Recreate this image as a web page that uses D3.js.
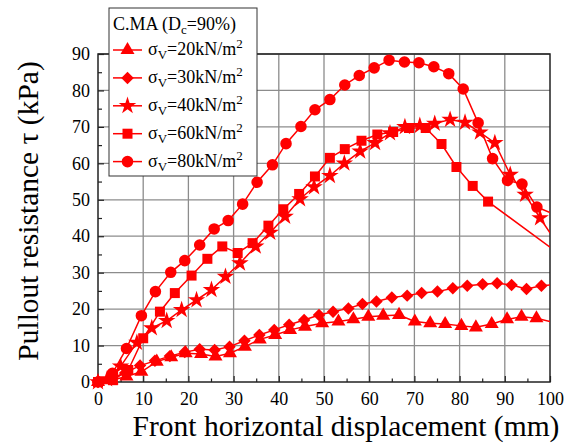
<!DOCTYPE html>
<html><head><meta charset="utf-8">
<script src="https://cdn.jsdelivr.net/npm/d3@7/dist/d3.min.js"></script>
<style>body{margin:0;background:#fff}svg{display:block}</style>
</head><body>
<svg id="c" width="572" height="445"></svg>
<script>
// ---- data ----
const xTicks = [0,10,20,30,40,50,60,70,80,90,100];
const yTicks = [0,10,20,30,40,50,60,70,80,90];
const legendTitle = "C.MA";
const seriesLabels = ["20","30","40","60","80"];

const x20 = [0,3.0,6.3,9.6,13.0,16.2,19.4,22.8,26.0,29.2,32.5,35.8,39.2,42.5,45.8,49.6,53.2,56.5,59.8,63.1,66.6,70.1,73.5,76.8,80.4,83.6,87.1,90.5,93.7,97.0];
const y20 = [0,0.5,1.5,2.8,5.6,6.8,7.9,7.7,7.0,7.9,9.7,11.7,12.9,14.3,15.2,16.1,16.6,17.2,17.9,18.2,18.4,16.6,16.1,15.9,15.4,15.0,15.9,17.2,17.9,17.5];
const tail20 = [[100,16.6]];

const x30 = [0,2.7,6.0,9.3,12.6,15.9,19.2,22.5,25.8,29.1,32.4,35.7,39.0,42.3,45.6,48.9,52.0,55.4,58.5,61.6,65.0,68.4,71.6,75.1,78.5,81.7,85.1,88.3,91.5,94.8,98.1];
const y30 = [0,1.0,2.5,4.5,5.8,7.1,8.2,9.0,8.8,9.7,11.3,12.9,14.3,15.7,17.0,18.4,19.3,20.2,21.4,22.1,23.2,23.7,24.4,24.8,25.7,26.4,26.8,27.1,26.6,25.5,26.4];
const tail30 = [[100,26.6]];

const x40 = [0,2.0,5.0,8.6,11.9,15.2,18.5,21.8,25.1,28.2,31.4,34.9,38.1,41.4,44.7,47.8,51.3,54.5,58.0,61.3,64.6,67.9,71.2,74.5,77.9,81.2,84.5,87.8,91.2,94.5,97.8];
const y40 = [0,0.8,4.3,10.8,14.8,16.8,19.8,22.5,25.3,28.9,32.6,37.2,41.0,45.4,50.2,53.5,56.6,60.0,63.3,65.6,68.3,70.0,70.3,70.9,72.0,71.2,68.5,65.6,56.9,51.4,45.0];
const tail40 = [[100,40.9]];

const x60 = [0,3.3,6.7,10.0,13.7,17.0,20.7,24.2,27.5,30.9,34.2,37.7,41.0,44.5,48.0,51.3,54.6,58.3,61.8,65.3,68.8,72.5,76.0,79.3,82.9,86.3];
const y60 = [0,0.5,3.3,12.0,19.3,24.4,29.2,33.8,37.2,35.4,38.1,42.9,47.4,51.6,56.4,61.5,63.9,66.2,67.9,68.6,69.7,69.7,65.3,59.0,53.8,49.5];
const tail60 = [[100,37.0]];

const x80 = [0,3.2,6.3,9.6,12.7,16.1,19.2,22.5,25.7,28.8,32.0,35.2,38.6,41.6,44.9,48.0,51.3,54.6,57.8,61.1,64.4,67.8,71.0,74.3,77.6,80.8,84.1,87.3,90.6,93.8,97.1];
const y80 = [0,2.4,9.2,18.2,24.8,30.1,33.3,37.6,42.0,44.3,48.8,54.8,59.6,65.4,70.1,74.7,77.5,81.5,84.1,86.2,88.3,87.8,87.6,86.5,84.6,80.4,71.1,61.3,55.3,54.3,48.0];
const tail80 = [[100,46.5]];

// ---- chart ----
const RED = "#ff0000";
const serif = "'Liberation Serif','Times New Roman',serif";
const svg = d3.select("#c");
const L = 98, R = 550, T = 54, B = 382;
const x = d3.scaleLinear().domain([0,100]).range([L,R]);
const y = d3.scaleLinear().domain([0,90]).range([B,T]);

// grid
const g = svg.append("g");
g.selectAll(".gx").data(xTicks.slice(1,-1)).join("line")
  .attr("x1",d=>x(d)).attr("x2",d=>x(d)).attr("y1",T).attr("y2",B)
  .attr("stroke","#8c8c8c").attr("stroke-width",1.3);
g.selectAll(".gy").data(yTicks.slice(1)).join("line")
  .attr("y1",d=>y(d)).attr("y2",d=>y(d)).attr("x1",L).attr("x2",R)
  .attr("stroke","#8c8c8c").attr("stroke-width",1.3);

// axes
const xAxis = d3.axisBottom(x).tickValues(xTicks).tickSize(-6).tickPadding(10).tickFormat(d3.format("d"));
const xMinor = d3.axisBottom(x).tickValues(d3.range(5,100,10)).tickSize(-3.5).tickFormat("");
const yAxis = d3.axisLeft(y).tickValues(yTicks).tickSize(-6).tickPadding(8).tickFormat(d3.format("d"));
const yMinor = d3.axisLeft(y).tickValues(d3.range(5,90,10)).tickSize(-4).tickFormat("");
function styleAx(sel){
  sel.select(".domain").remove();
  sel.selectAll("line").attr("stroke","#222").attr("stroke-width",1.2);
  sel.selectAll("text").attr("font-family",serif).attr("font-size",18).attr("fill","#000");
}
svg.append("g").attr("transform",`translate(0,${B})`).call(xAxis).call(styleAx);
svg.append("g").attr("transform",`translate(0,${B})`).call(xMinor).call(styleAx);
svg.append("g").attr("transform",`translate(${L},0)`).call(yAxis).call(styleAx);
svg.append("g").attr("transform",`translate(${L},0)`).call(yMinor).call(styleAx);

// frame
svg.append("rect").attr("x",L).attr("y",T).attr("width",R-L).attr("height",B-T)
  .attr("fill","none").attr("stroke","#222").attr("stroke-width",1.5);

// clip
svg.append("clipPath").attr("id","clip").append("rect")
  .attr("x",L).attr("y",T).attr("width",R-L).attr("height",B-T);

const series = [
  {xs:x20, ys:y20, tail:tail20, sym:d3.symbol().type(d3.symbolTriangle).size(85), rot:0},
  {xs:x30, ys:y30, tail:tail30, sym:d3.symbol().type(d3.symbolSquare).size(78), rot:45},
  {xs:x40, ys:y40, tail:tail40, sym:d3.symbol().type(d3.symbolStar).size(95), rot:0},
  {xs:x60, ys:y60, tail:tail60, sym:d3.symbol().type(d3.symbolSquare).size(100), rot:0},
  {xs:x80, ys:y80, tail:tail80, sym:d3.symbol().type(d3.symbolCircle).size(105), rot:0}
];
const line = d3.line().x(d=>x(d[0])).y(d=>y(d[1]));
series.forEach(s=>{
  const pts = s.xs.map((v,i)=>[v,s.ys[i]]);
  svg.append("path").attr("d",line(pts.concat(s.tail))).attr("fill","none")
    .attr("stroke",RED).attr("stroke-width",1.5).attr("clip-path","url(#clip)");
  svg.append("g").selectAll("path").data(pts).join("path")
    .attr("d",s.sym()).attr("fill",RED)
    .attr("transform",d=>`translate(${x(d[0])},${y(d[1])}) rotate(${s.rot})`);
});

// axis titles
svg.append("text").attr("x",346).attr("y",436).attr("text-anchor","middle")
  .attr("font-family",serif).attr("font-size",29.5).text("Front horizontal displacement (mm)");
svg.append("text").attr("transform",`translate(38,211) rotate(-90)`).attr("text-anchor","middle")
  .attr("font-family",serif).attr("font-size",29.5).text("Pullout resistance τ (kPa)");

// legend
const lg = svg.append("g");
lg.append("rect").attr("x",109).attr("y",8).attr("width",148).attr("height",168)
  .attr("fill","#fff").attr("stroke","#333").attr("stroke-width",1);
const tt = lg.append("text").attr("x",113).attr("y",30).attr("font-family",serif).attr("font-size",18);
tt.append("tspan").text(legendTitle + " (D");
tt.append("tspan").attr("dy",4).attr("font-size",13).text("c");
tt.append("tspan").attr("dy",-4).text("=90%)");
series.forEach((s,i)=>{
  const cy = 50 + i*27.9;
  lg.append("line").attr("x1",113).attr("x2",142).attr("y1",cy).attr("y2",cy)
    .attr("stroke",RED).attr("stroke-width",1.5);
  lg.append("path").attr("d",s.sym()).attr("fill",RED)
    .attr("transform",`translate(127.5,${cy}) rotate(${s.rot})`);
  const t = lg.append("text").attr("x",148).attr("y",cy+5).attr("font-family",serif).attr("font-size",18);
  t.append("tspan").text("σ");
  t.append("tspan").attr("dy",4).attr("font-size",13).text("V");
  t.append("tspan").attr("dy",-4).text("=" + seriesLabels[i] + "kN/m");
  t.append("tspan").attr("dy",-7).attr("font-size",13).text("2");
});
</script>
</body></html>
